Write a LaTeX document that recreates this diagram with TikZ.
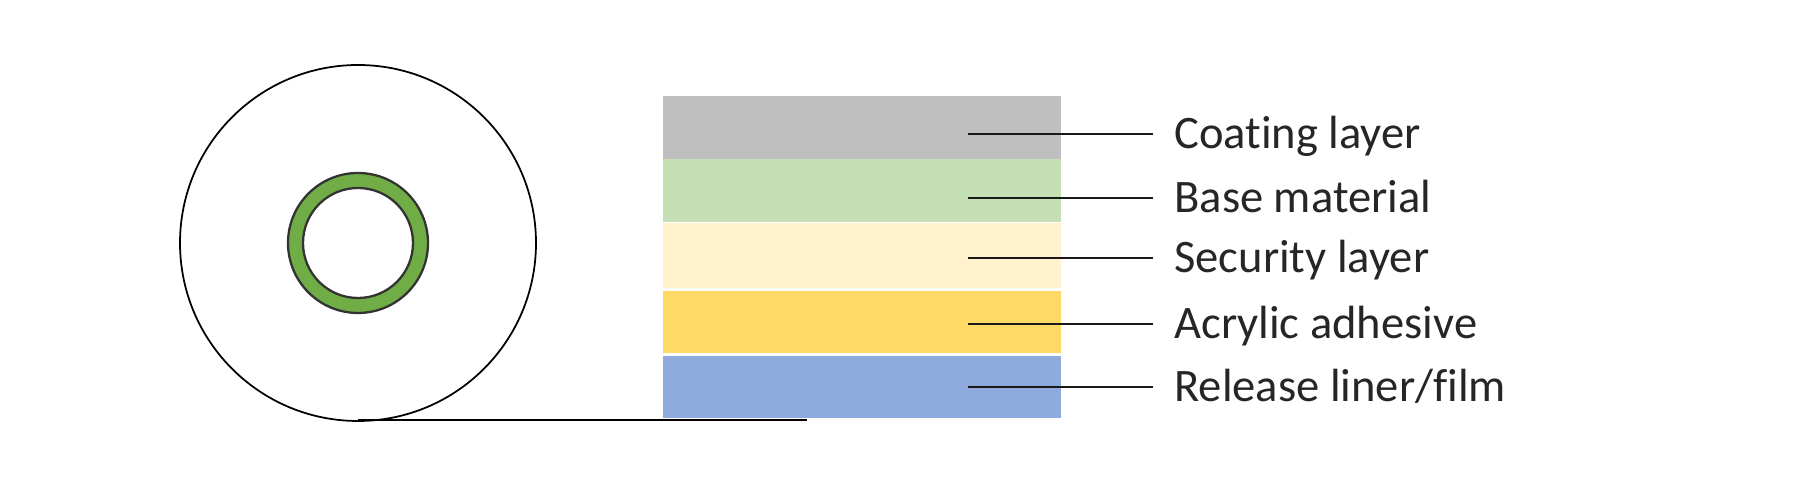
\documentclass[tikz,border=0pt]{standalone}
\usepackage{fontspec}
\setmainfont{Carlito}[Ligatures=NoCommon]
\definecolor{coatgray}{HTML}{BFBFBF}
\definecolor{basegreen}{HTML}{C5E0B4}
\definecolor{securecream}{HTML}{FFF2CC}
\definecolor{acrylyellow}{HTML}{FFD966}
\definecolor{linerblue}{HTML}{8FAADC}
\definecolor{coregreen}{HTML}{70AD47}
\tikzset{
  layer/.style={rectangle, inner sep=0pt, minimum width=7.96cm},
  label/.style={anchor=west, inner xsep=0.42cm, inner ysep=0pt, text height=17pt, text depth=0pt,
    font=\fontsize{26.5}{30}\selectfont, text=black!85},
  leader/.style={line width=1.3pt, black!90}
}

\begin{document}
\begin{tikzpicture}
\useasboundingbox (0,0) rectangle (36,10);
% roll
\draw[line width=1pt] (7.16, 5.14) circle (3.56);
\draw[line width=1.3pt, fill=coregreen, even odd rule, draw=black!80] (7.16, 5.14) circle (1.40) (7.16, 5.14) circle (1.10);
\coordinate (rollend) at (7.16, 1.60);
\coordinate (tapeend) at (16.14, 1.60);
\draw[line width=1.3pt] (rollend) -- (tapeend);

% layers
\node[layer, fill=coatgray, minimum height=1.26cm] (coat) at (17.24, 7.45) {};
\node[layer, fill=basegreen, minimum height=1.26cm] (base) at (17.24, 6.19) {};
\node[layer, fill=securecream, minimum height=1.30cm] (secure) at (17.24, 4.89) {};
\node[layer, fill=acrylyellow, minimum height=1.24cm] (acryl) at (17.24, 3.56) {};
\node[layer, fill=linerblue, minimum height=1.24cm] (liner) at (17.24, 2.26) {};

% labels
\node[label] (lcoat) at (23.06, 7.32) {Coating layer};
\node[label] (lbase) at (23.06, 6.04) {Base material};
\node[label] (lsecure) at (23.06, 4.84) {Security layer};
\node[label] (lacryl) at (23.06, 3.52) {Acrylic adhesive};
\node[label] (lliner) at (23.06, 2.26) {Release liner/film};

\coordinate (ccoat) at (19.36, 7.32);
\coordinate (cbase) at (19.36, 6.04);
\coordinate (csecure) at (19.36, 4.84);
\coordinate (cacryl) at (19.36, 3.52);
\coordinate (cliner) at (19.36, 2.26);
\draw[leader] (ccoat) -- (lcoat.west);
\draw[leader] (cbase) -- (lbase.west);
\draw[leader] (csecure) -- (lsecure.west);
\draw[leader] (cacryl) -- (lacryl.west);
\draw[leader] (cliner) -- (lliner.west);

\end{tikzpicture}
\end{document}
